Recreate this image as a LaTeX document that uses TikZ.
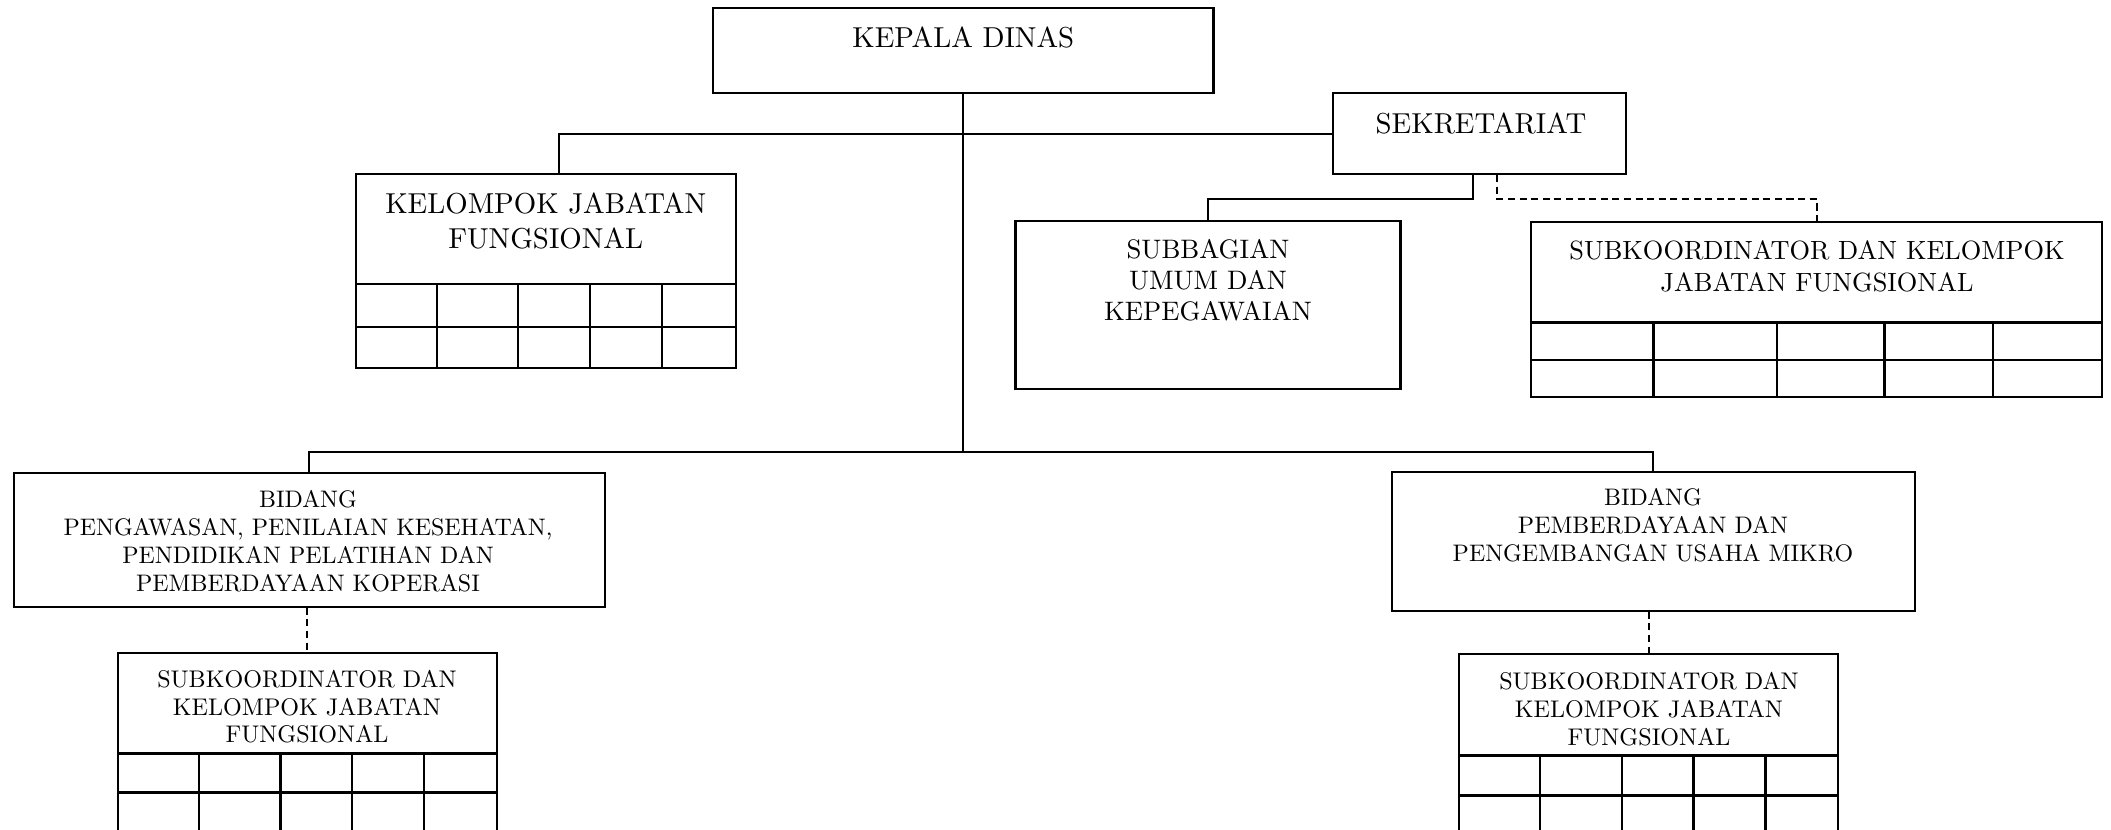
\documentclass[tikz,border=0pt]{standalone}
\usepackage{fontspec}
\setmainfont{lmroman10-regular.otf}
\begin{document}
\begin{tikzpicture}[x=0.01cm,y=-0.01cm,
  box/.style={draw,line width=0.6pt,inner sep=0pt},
  lbl/.style={align=center,inner sep=0pt,anchor=north},
  fbig/.style={font=\fontsize{8.2}{10}\selectfont},
  fmid/.style={font=\fontsize{7.6}{8.8}\selectfont},
  fmidb/.style={font=\fontsize{7.5}{9}\selectfont},
  fbid/.style={font=\fontsize{6.8}{8}\selectfont},
  fsub/.style={font=\fontsize{6.85}{7.9}\selectfont},
  gridline/.style={line width=0.7pt},
  link/.style={line width=0.6pt},
  dotlink/.style={line width=0.6pt,dash pattern=on 2pt off 1.3pt}]
\useasboundingbox (0,0) rectangle (2111,830);
\clip (0,0) rectangle (2111,830);

% boxes
\node[box,minimum width=5cm,minimum height=0.85cm] (kepala) at (963.3,50.8) {};
\node[box,minimum width=2.93cm,minimum height=0.807cm] (sek) at (1479.5,133.7) {};
\node[box,minimum width=3.8cm,minimum height=1.94cm] (kjf) at (545.7,271) {};
\node[box,minimum width=3.848cm,minimum height=1.686cm] (sub) at (1208,305) {};
\node[box,minimum width=5.705cm,minimum height=1.744cm] (skr) at (1816.8,309.5) {};
\node[box,minimum width=5.912cm,minimum height=1.334cm] (bidA) at (309.4,540) {};
\node[box,minimum width=5.228cm,minimum height=1.39cm] (bidB) at (1653.2,541.2) {};
\node[box,minimum width=3.792cm,minimum height=1.923cm] (skA) at (307.4,748.9) {};
\node[box,minimum width=3.787cm,minimum height=1.91cm] (skB) at (1648.7,749.5) {};

% texts
\node[lbl,fbig] (kepala-t) at (963.3,26.1) {KEPALA DINAS};
\node[lbl,fbig] (sek-t) at (1481,111.8) {SEKRETARIAT};
\node[lbl,fbig] (kjf-t) at (545.7,191.7) {KELOMPOK JABATAN\\FUNGSIONAL};
\node[lbl,fmid] (sub-t) at (1208,238.3) {SUBBAGIAN\\UMUM DAN\\KEPEGAWAIAN};
\node[lbl,fmidb] (skr-t) at (1817,240.1) {SUBKOORDINATOR DAN KELOMPOK\\JABATAN FUNGSIONAL};
\node[lbl,fbid] (bidA-t) at (308,489.5) {BIDANG\\PENGAWASAN, PENILAIAN KESEHATAN,\\PENDIDIKAN PELATIHAN DAN\\PEMBERDAYAAN KOPERASI};
\node[lbl,fbid] (bidB-t) at (1653,487.5) {BIDANG\\PEMBERDAYAAN DAN\\PENGEMBANGAN USAHA MIKRO};
\node[lbl,fsub] (skA-t) at (307,669.4) {SUBKOORDINATOR DAN\\KELOMPOK JABATAN\\FUNGSIONAL};
\node[lbl,fsub] (skB-t) at (1649,671.7) {SUBKOORDINATOR DAN\\KELOMPOK JABATAN\\FUNGSIONAL};

% grids
\draw[gridline] (355.7,284) -- (735.7,284) (355.7,327) -- (735.7,327);
\foreach \x in {437,518,590,662} \draw[gridline] (\x,284) -- (\x,368);
\draw[gridline] (1531.5,322.3) -- (2102,322.3) (1531.5,360) -- (2102,360);
\foreach \x in {1653.4,1776.8,1884.5,1993} \draw[gridline] (\x,322.3) -- (\x,396.7);
\draw[gridline] (117.8,753.3) -- (497,753.3) (117.8,792.7) -- (497,792.7);
\foreach \x in {199,280.3,352,424} \draw[gridline] (\x,753.3) -- (\x,850);
\draw[gridline] (1459.3,755.7) -- (1838,755.7) (1459.3,795.7) -- (1838,795.7);
\foreach \x in {1540,1622,1693.6,1765.4} \draw[gridline] (\x,755.7) -- (\x,850);

% connectors
\coordinate (j1) at (kepala.south |- 0,452);
\coordinate (k1) at (559,133.7);
\coordinate (s1) at (1473,199);
\coordinate (s2) at (1497,199);
\draw[link] (kepala.south) -- (j1);
\draw[link] (k1 |- kjf.north) -- (k1) -- (sek.west);
\draw[link] (bidA.north) |- (j1) -| (bidB.north);
\draw[link] (s1 |- sek.south) -- (s1) -| (sub.north);
\draw[dotlink] (s2 |- sek.south) -- (s2) -| (skr.north);
\draw[dotlink] (skA.north |- bidA.south) -- (skA.north);
\draw[dotlink] (skB.north |- bidB.south) -- (skB.north);
\end{tikzpicture}
\end{document}
